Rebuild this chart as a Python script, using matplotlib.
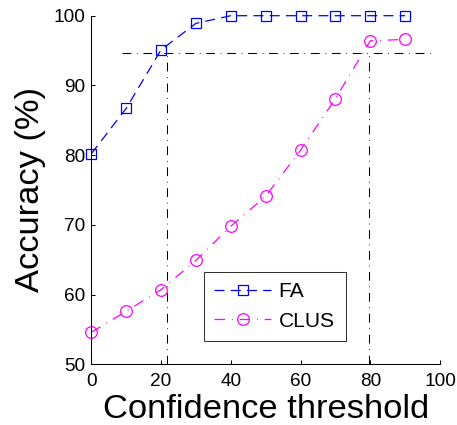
import matplotlib
matplotlib.use("Agg")
import matplotlib.pyplot as plt

# Data
thresholds = [0, 10, 20, 30, 40, 50, 60, 70, 80, 90]
acc_fa = [80.2, 86.7, 95.1, 98.9, 100, 100, 100, 100, 100, 100]
acc_clus = [54.6, 57.6, 60.7, 64.9, 69.8, 74.1, 80.7, 88.1, 96.4, 96.6]

# Reference guides: target accuracy and the thresholds where each method reaches it
target_acc = 94.7
guide_x_start, guide_x_end = 8.7, 97.6
cross_fa = 21.6
cross_clus = 79.7

x_ticks = [0, 20, 40, 60, 80, 100]
y_ticks = [50, 60, 70, 80, 90, 100]

plt.rcParams['font.family'] = ['Liberation Sans', 'DejaVu Sans']

fig = plt.figure(figsize=(4.57, 4.25), dpi=100)
ax = fig.add_axes([91.3 / 457, 1 - 364.3 / 425, 348.7 / 457, 348.6 / 425])

dashdot = (0, (8.4, 5.5, 0.7, 5.5))

ax.plot([guide_x_start, guide_x_end], [target_acc, target_acc],
        color='black', lw=0.75, linestyle=dashdot)
ax.plot([cross_fa, cross_fa], [50, target_acc],
        color='black', lw=0.75, linestyle=dashdot)
ax.plot([cross_clus, cross_clus], [50, target_acc],
        color='black', lw=0.75, linestyle=dashdot)

ax.plot(thresholds, acc_fa, color='#0000ff', lw=0.9, linestyle=(0, (8, 5)),
        marker='s', markersize=7.2, markerfacecolor='none',
        markeredgecolor='#0000ff', markeredgewidth=0.9, label='FA', clip_on=False)
ax.plot(thresholds, acc_clus, color='#ff00ff', lw=0.9, linestyle=dashdot,
        marker='o', markersize=8.4, markerfacecolor='none',
        markeredgecolor='#ff00ff', markeredgewidth=0.9, label='CLUS', clip_on=False)

ax.set_xlim(0, 100)
ax.set_ylim(50, 100)
ax.set_xticks(x_ticks)
ax.set_yticks(y_ticks)
ax.tick_params(direction='in', length=3, width=0.75, labelsize=13.7,
               top=False, right=False)
ax.tick_params(axis='x', pad=6)
ax.tick_params(axis='y', pad=4)
for side in ('top', 'right'):
    ax.spines[side].set_visible(False)
for side in ('left', 'bottom'):
    ax.spines[side].set_linewidth(0.75)

ax.set_xlabel('Confidence threshold', fontsize=24.8, labelpad=3)
ax.set_ylabel('Accuracy (%)', fontsize=24.8, labelpad=6)

leg = ax.legend(loc='lower left', bbox_to_anchor=(0.323, 0.066, 0.407, 0.221),
                mode='expand', borderaxespad=0, fontsize=15.1, frameon=True,
                fancybox=False, edgecolor='black', handlelength=2.7,
                handletextpad=0.35, labelspacing=0.5, borderpad=0.5)
leg.get_frame().set_linewidth(0.75)

fig.savefig('out.png', dpi=100)
